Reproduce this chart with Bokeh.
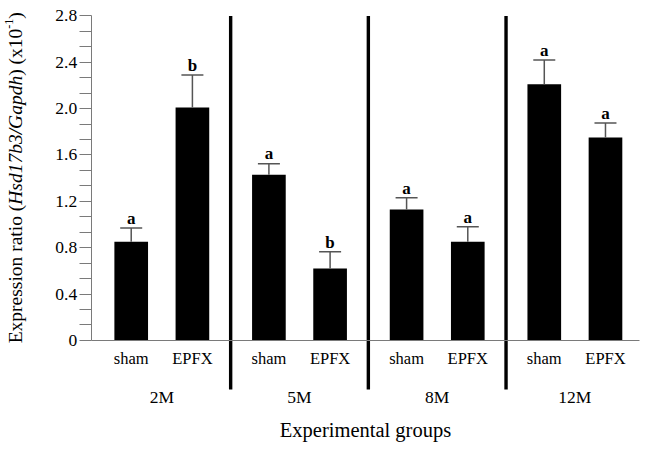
import math
from bokeh.plotting import figure
from bokeh.models import Range1d, LinearAxis, FixedTicker, ColumnDataSource, Whisker, TeeHead, Label
from bokeh.core.properties import value
from bokeh.embed import file_html
from bokeh.resources import INLINE

# ---------------- data ----------------
groups = ["2M", "5M", "8M", "12M"]
treatments = ["sham", "EPFX"]
means = [0.85, 2.01, 1.43, 0.62, 1.13, 0.85, 2.21, 1.75]
sems = [0.12, 0.28, 0.095, 0.145, 0.10, 0.13, 0.21, 0.125]
letters = ["a", "b", "a", "b", "a", "a", "a", "a"]
y_ticks = [0, 0.4, 0.8, 1.2, 1.6, 2.0, 2.4, 2.8]
y_tick_labels = ["0", "0.4", "0.8", "1.2", "1.6", "2.0", "2.4", "2.8"]
x_title = "Experimental groups"
y_title_parts = ["Expression ratio (", "Hsd17b3/Gapdh", ") (x10", "-1", ")"]

# ---------------- layout ----------------
GROUP_STEP = 2.25
xs = [gi * GROUP_STEP + ti for gi in range(len(groups)) for ti in range(len(treatments))]
sub_labels = [t for g in groups for t in treatments]
group_centers = [gi * GROUP_STEP + 0.5 for gi in range(len(groups))]
dividers = [gi * GROUP_STEP + 1.625 for gi in range(len(groups) - 1)]
upper = [m + s for m, s in zip(means, sems)]

X_START, X_END = -2.136, 8.355
Y_START, Y_END = -0.916, 2.933
Y_AXIS_X = -0.654
X_AXIS_END = 8.306
Y_MAX = 2.8

src = ColumnDataSource(dict(x=xs, mean=means, upper=upper, letter=letters))

FONT = "Liberation Serif"
GRAY = "#7a7a7a"

p = figure(width=642, height=446, x_range=Range1d(X_START, X_END), y_range=Range1d(Y_START, Y_END),
           output_backend="svg", toolbar_location=None, x_axis_type=None, y_axis_type=None,
           min_border_left=0, min_border_right=0, min_border_top=0, min_border_bottom=0)
p.outline_line_color = None
p.background_fill_color = "white"
p.border_fill_color = "white"

# y axis
minor = []
for i in range(len(y_ticks) - 1):
    step = (y_ticks[i + 1] - y_ticks[i]) / 3
    minor += [y_ticks[i] + step, y_ticks[i] + 2 * step]
yaxis = LinearAxis(ticker=FixedTicker(ticks=y_ticks, minor_ticks=minor), bounds=(0, Y_MAX),
                   fixed_location=Y_AXIS_X,
                   major_label_overrides={float(k): v for k, v in zip(y_ticks, y_tick_labels)})
yaxis.axis_line_color = GRAY
yaxis.major_tick_line_color = GRAY
yaxis.minor_tick_line_color = GRAY
yaxis.major_tick_in = 0
yaxis.major_tick_out = 12
yaxis.minor_tick_in = 0
yaxis.minor_tick_out = 12
yaxis.major_label_standoff = 2
yaxis.major_label_text_font = FONT
yaxis.major_label_text_font_size = "17.5px"
yaxis.major_label_text_color = "black"
p.add_layout(yaxis, "left")

# x axis: treatment labels
xaxis = LinearAxis(ticker=FixedTicker(ticks=xs, minor_ticks=[]), fixed_location=0,
                   bounds=(Y_AXIS_X, X_AXIS_END),
                   major_label_overrides={float(k): v for k, v in zip(xs, sub_labels)})
xaxis.axis_line_color = GRAY
xaxis.axis_line_width = 1
xaxis.major_tick_line_color = None
xaxis.minor_tick_line_color = None
xaxis.major_tick_in = 0
xaxis.major_tick_out = 0
xaxis.major_label_standoff = 9
xaxis.major_label_text_font = FONT
xaxis.major_label_text_font_size = "16.5px"
xaxis.major_label_text_color = "black"
p.add_layout(xaxis, "below")

# x axis: group labels + title
gaxis = LinearAxis(ticker=FixedTicker(ticks=group_centers, minor_ticks=[]), fixed_location=0,
                   bounds=(Y_AXIS_X, X_AXIS_END),
                   major_label_overrides={float(k): v for k, v in zip(group_centers, groups)})
gaxis.axis_line_color = None
gaxis.major_tick_line_color = None
gaxis.minor_tick_line_color = None
gaxis.major_tick_in = 0
gaxis.major_tick_out = 0
gaxis.major_label_standoff = 47
gaxis.major_label_text_font = FONT
gaxis.major_label_text_font_size = "17.5px"
gaxis.major_label_text_color = "black"
gaxis.axis_label = x_title
gaxis.axis_label_text_font = FONT
gaxis.axis_label_text_font_size = "20.5px"
gaxis.axis_label_text_font_style = "normal"
gaxis.axis_label_text_color = "black"
gaxis.axis_label_standoff = 8
p.add_layout(gaxis, "below")

# dividers
p.segment(x0=dividers, y0=[-0.425] * len(dividers), x1=dividers, y1=[Y_MAX] * len(dividers),
          line_color="black", line_width=3.4)

# bars
p.vbar(x="x", top="mean", width=0.55, source=src, fill_color="black", line_color=None)

# error bars (upper only)
p.add_layout(Whisker(source=src, base="x", upper="upper", lower="mean",
                     line_color="#555555", line_width=1.5,
                     upper_head=TeeHead(size=22, line_color="#555555", line_width=1.5),
                     lower_head=None, level="glyph"))

# significance letters
p.text(x="x", y="upper", text="letter", source=src, text_align="center", text_baseline="alphabetic",
       y_offset=-9.7, text_font=value(FONT), text_font_style="bold", text_font_size="17px",
       text_color="black")

# rotated y title with italic gene names and superscript
REG = {"E": 611, "x": 500, "p": 500, "r": 333, "e": 444, "s": 389, "i": 278, "o": 500, "n": 500,
       " ": 250, "a": 444, "t": 278, "(": 333, ")": 333, "1": 500, "0": 500, "-": 333}
ITA = {"H": 722, "s": 389, "d": 500, "1": 500, "7": 500, "b": 500, "3": 500, "/": 278,
       "G": 722, "a": 500, "p": 500, "h": 500}
styles = [("normal", 19.5, 0), ("italic", 19.5, 0), ("normal", 19.5, 0), ("normal", 12, -6),
          ("normal", 19.5, 0)]
pos = -3.0
for txt, (style, size, shift) in zip(y_title_parts, styles):
    table = ITA if style == "italic" else REG
    p.add_layout(Label(x=Y_AXIS_X, y=0, x_offset=-76 + shift, y_offset=pos, text=txt,
                       angle=math.pi / 2, text_align="left", text_baseline="middle",
                       text_font=FONT, text_font_size=f"{size}px", text_font_style=style,
                       text_color="black"))
    pos += sum(table.get(c, 500) for c in txt) / 1000.0 * size

open("out.html", "w").write(file_html(p, INLINE))
